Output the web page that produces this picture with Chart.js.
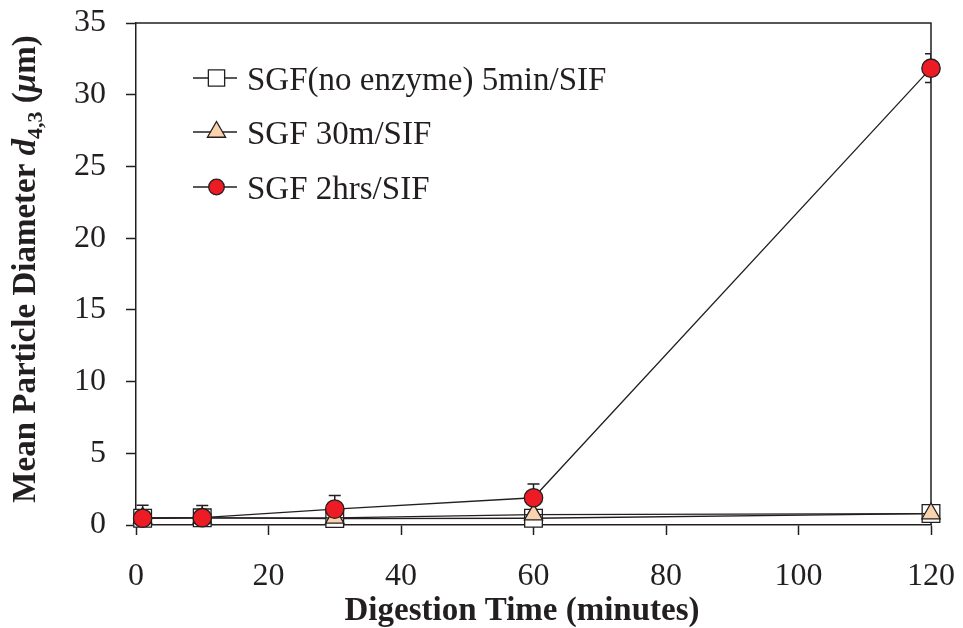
<!DOCTYPE html>
<html>
<head>
<meta charset="utf-8">
<script src="https://cdn.jsdelivr.net/npm/chart.js@4"></script>
<style>
  html, body { margin: 0; padding: 0; background: #ffffff; }
  #c { display: block; }
</style>
</head>
<body>
<canvas id="c" width="963" height="628"></canvas>
<script>
// Digestion time points (minutes)
const minutes = [1, 10, 30, 60, 120];

// Mean particle diameter d4,3 (µm) per treatment
const noEnzyme5min = [0.47, 0.5, 0.45, 0.47, 0.8];
const sgf30m = [0.5, 0.5, 0.5, 0.72, 0.8];
const sgf2hrs = [0.47, 0.51, 1.11, 1.9, 31.85];
const sgf2hrsErr = [0.9, 0.85, 0.95, 0.95, 1.0];

const seriesNames = ['SGF(no enzyme) 5min/SIF', 'SGF 30m/SIF', 'SGF 2hrs/SIF'];

const yMin = 0, yMax = 35, yStep = 5;
const xMin = 0, xMax = 120, xStep = 20;

const INK = '#231F20';
const SERIF = '"Liberation Serif", "Times New Roman", serif';

const toPoints = (ys) => ys.map((y, i) => ({ x: minutes[i], y }));

const styles = [
  { pointStyle: 'rect', radius: 12.5, fill: '#FFFFFF' },
  { pointStyle: 'triangle', radius: 10.5, fill: '#FAD3AE' },
  { pointStyle: 'circle', radius: 9.2, fill: '#ED1C24' }
];

// Fixed scale box sizes; tick labels are allowed to overhang the plot edges
function fixScale(size, horizontal) {
  return (s) => {
    if (horizontal) s.height = size; else s.width = size;
    s.paddingTop = 0; s.paddingBottom = 0;
    s.paddingLeft = 0; s.paddingRight = 0;
  };
}

// Error bars, drawn under the markers and clipped to the plot area
const errorBars = {
  id: 'errorBars',
  beforeDatasetsDraw(chart) {
    const { ctx, chartArea: a, scales: { x, y } } = chart;
    ctx.save();
    ctx.beginPath();
    ctx.rect(a.left, a.top, a.right - a.left, a.bottom - a.top);
    ctx.clip();
    ctx.strokeStyle = INK;
    ctx.lineWidth = 1.5;
    sgf2hrs.forEach((v, i) => {
      const e = sgf2hrsErr[i];
      const px = x.getPixelForValue(minutes[i]);
      const pTop = y.getPixelForValue(v + e);
      const pBot = y.getPixelForValue(v - e);
      ctx.beginPath();
      ctx.moveTo(px, pTop); ctx.lineTo(px, pBot);
      ctx.moveTo(px - 6, pTop); ctx.lineTo(px + 6, pTop);
      ctx.moveTo(px - 6, pBot); ctx.lineTo(px + 6, pBot);
      ctx.stroke();
    });
    ctx.restore();
  }
};

// Plot frame (top and right sides) plus axis titles and legend
const decorations = {
  id: 'decorations',
  beforeDatasetsDraw(chart) {
    const { ctx, chartArea: a } = chart;
    ctx.save();
    ctx.strokeStyle = INK;
    ctx.lineWidth = 1.5;
    ctx.beginPath();
    ctx.moveTo(a.left, a.top);
    ctx.lineTo(a.right, a.top);
    ctx.lineTo(a.right, a.bottom);
    ctx.stroke();
    ctx.restore();
  },
  afterDraw(chart) {
    const { ctx } = chart;
    ctx.save();
    ctx.fillStyle = INK;

    // x-axis title
    ctx.font = 'bold 33px ' + SERIF;
    ctx.textAlign = 'center';
    ctx.textBaseline = 'alphabetic';
    ctx.fillText('Digestion Time (minutes)', 522, 620);

    // y-axis title with italic symbol and subscript
    const parts = [
      { t: 'Mean Particle Diameter ', f: 'bold 33px ' + SERIF, dy: 0 },
      { t: 'd', f: 'italic bold 33px ' + SERIF, dy: 0 },
      { t: '4,3', f: 'bold 22px ' + SERIF, dy: 7 },
      { t: ' (', f: 'bold 33px ' + SERIF, dy: 0 },
      { t: '\u03BC', f: 'italic bold 33px ' + SERIF, dy: 0 },
      { t: 'm)', f: 'bold 33px ' + SERIF, dy: 0 }
    ];
    let total = 0;
    parts.forEach(p => { ctx.font = p.f; p.w = ctx.measureText(p.t).width; total += p.w; });
    ctx.translate(35, 269);
    ctx.rotate(-Math.PI / 2);
    ctx.textAlign = 'left';
    let cx = -total / 2;
    parts.forEach(p => { ctx.font = p.f; ctx.fillText(p.t, cx, p.dy); cx += p.w; });
    ctx.restore();

    // legend
    ctx.save();
    const rows = [78, 132, 187];
    const legendRadius = [11.5, 10.5, 7.8];
    chart.data.datasets.forEach((ds, i) => {
      const yy = rows[i];
      ctx.strokeStyle = INK;
      ctx.lineWidth = 1.5;
      ctx.beginPath();
      ctx.moveTo(193, yy); ctx.lineTo(237, yy);
      ctx.stroke();
      ctx.fillStyle = styles[i].fill;
      ctx.lineWidth = 1.3;
      Chart.helpers.drawPoint(ctx, {
        pointStyle: styles[i].pointStyle,
        radius: legendRadius[i],
        rotation: 0,
        borderWidth: 1.3
      }, 216.5, yy);
      ctx.fillStyle = INK;
      ctx.font = '33px ' + SERIF;
      ctx.textAlign = 'left';
      ctx.textBaseline = 'alphabetic';
      ctx.fillText(ds.label, 247, yy + 12);
    });
    ctx.restore();
  }
};

new Chart(document.getElementById('c'), {
  type: 'line',
  data: {
    datasets: [noEnzyme5min, sgf30m, sgf2hrs].map((vals, i) => ({
      label: seriesNames[i],
      data: toPoints(vals),
      borderColor: INK,
      borderWidth: 1.3,
      backgroundColor: styles[i].fill,
      pointStyle: styles[i].pointStyle,
      pointRadius: styles[i].radius,
      pointBackgroundColor: styles[i].fill,
      pointBorderColor: INK,
      pointBorderWidth: 1.3,
      tension: 0,
      fill: false,
      clip: false,
      order: 2 - i
    }))
  },
  options: {
    responsive: false,
    animation: false,
    devicePixelRatio: 1,
    layout: { padding: { top: 23, right: 32, left: 0, bottom: 0 } },
    plugins: { legend: { display: false }, tooltip: { enabled: false } },
    scales: {
      x: {
        type: 'linear',
        min: xMin, max: xMax,
        afterFit: fixScale(103, true),
        ticks: {
          stepSize: xStep,
          color: INK,
          font: { family: SERIF, size: 32 },
          padding: 22,
          maxRotation: 0
        },
        grid: {
          drawOnChartArea: false, drawTicks: true,
          tickLength: 10, tickColor: INK, tickWidth: 1.5
        },
        border: { display: true, color: INK, width: 1.5 }
      },
      y: {
        type: 'linear',
        min: yMin, max: yMax,
        afterFit: fixScale(136, false),
        ticks: {
          stepSize: yStep,
          color: INK,
          font: { family: SERIF, size: 32 },
          padding: 20
        },
        grid: {
          drawOnChartArea: false, drawTicks: true,
          tickLength: 10, tickColor: INK, tickWidth: 1.5
        },
        border: { display: true, color: INK, width: 1.5 }
      }
    }
  },
  plugins: [errorBars, decorations]
});
</script>
</body>
</html>
